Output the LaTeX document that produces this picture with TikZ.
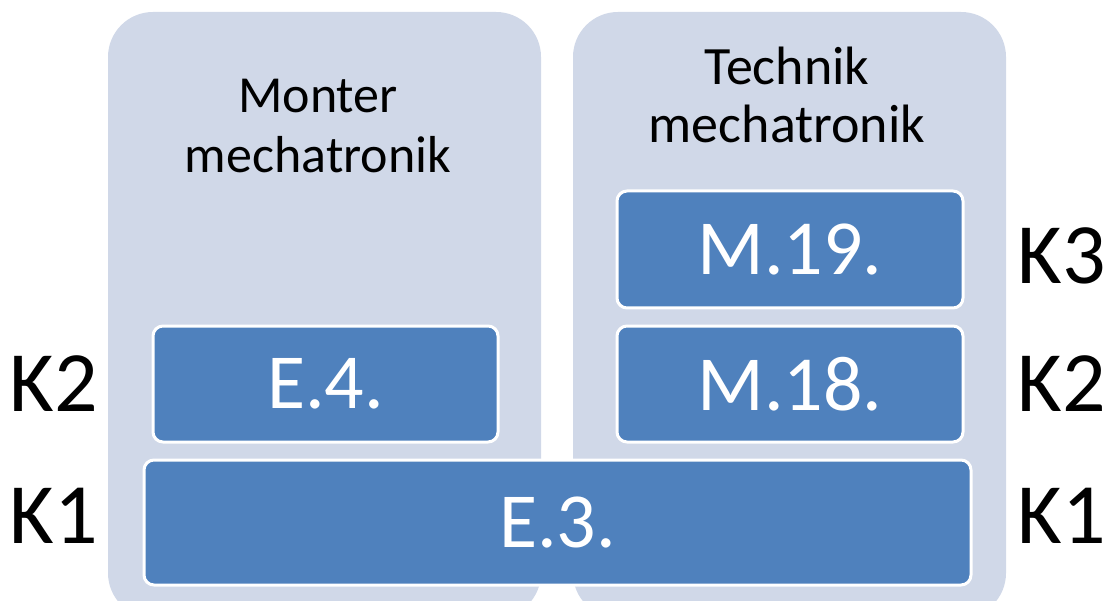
\documentclass[tikz,border=0pt]{standalone}
\usepackage{fontspec}
\setmainfont{Carlito}
\definecolor{panelc}{HTML}{D0D8E8}
\definecolor{boxc}{HTML}{4F81BD}
\tikzset{
  panel/.style={fill=panelc, draw=none, rounded corners=45pt},
  levelbox/.style={fill=boxc, draw=white, line width=3pt, rounded corners=10pt,
    text=white, font=\fontsize{78}{80}\selectfont, inner sep=0pt},
  title/.style={anchor=base, text=black, font=\fontsize{52}{56}\selectfont, inner sep=0pt},
  titleb/.style={title, font=\fontsize{54}{58}\selectfont},
  klabel/.style={text=black, font=\fontsize{86}{90}\selectfont, inner sep=0pt}
}
\begin{document}
\begin{tikzpicture}[x=1pt,y=-1pt]
\useasboundingbox (0,0) rectangle (1110,601);
\clip (0,0) rectangle (1110,601);
\fill[white] (0,0) rectangle (1110,601);
% panels
\path[panel] (108,12) rectangle (541,618);
\path[panel] (573,12) rectangle (1006,618);
% titles
\node[title] (t1a) at (318,113) {Monter};
\node[title] (t1b) at (318,173) {mechatronik};
\node[titleb] (t2a) at (787,85) {Technik};
\node[titleb] (t2b) at (787,143) {mechatronik};
% boxes
\node[levelbox, minimum width=346pt, minimum height=117pt] (m19) at (790,249.5) {M.19.};
\node[levelbox, minimum width=346pt, minimum height=116pt] (m18) at (790,384) {M.18.};
\node[levelbox, minimum width=345pt, minimum height=116pt] (e4) at (325.5,384) {E.4.};
\node[levelbox, minimum width=827pt, minimum height=125pt] (e3) at (557.5,522.5) {E.3.};
% level labels
\node[klabel] (k3r) at (1062,256) {K3};
\node[klabel] (k2r) at (1062,384) {K2};
\node[klabel] (k1r) at (1062,516) {K1};
\node[klabel] (k2l) at (54,384) {K2};
\node[klabel] (k1l) at (54,516) {K1};
\end{tikzpicture}
\end{document}
